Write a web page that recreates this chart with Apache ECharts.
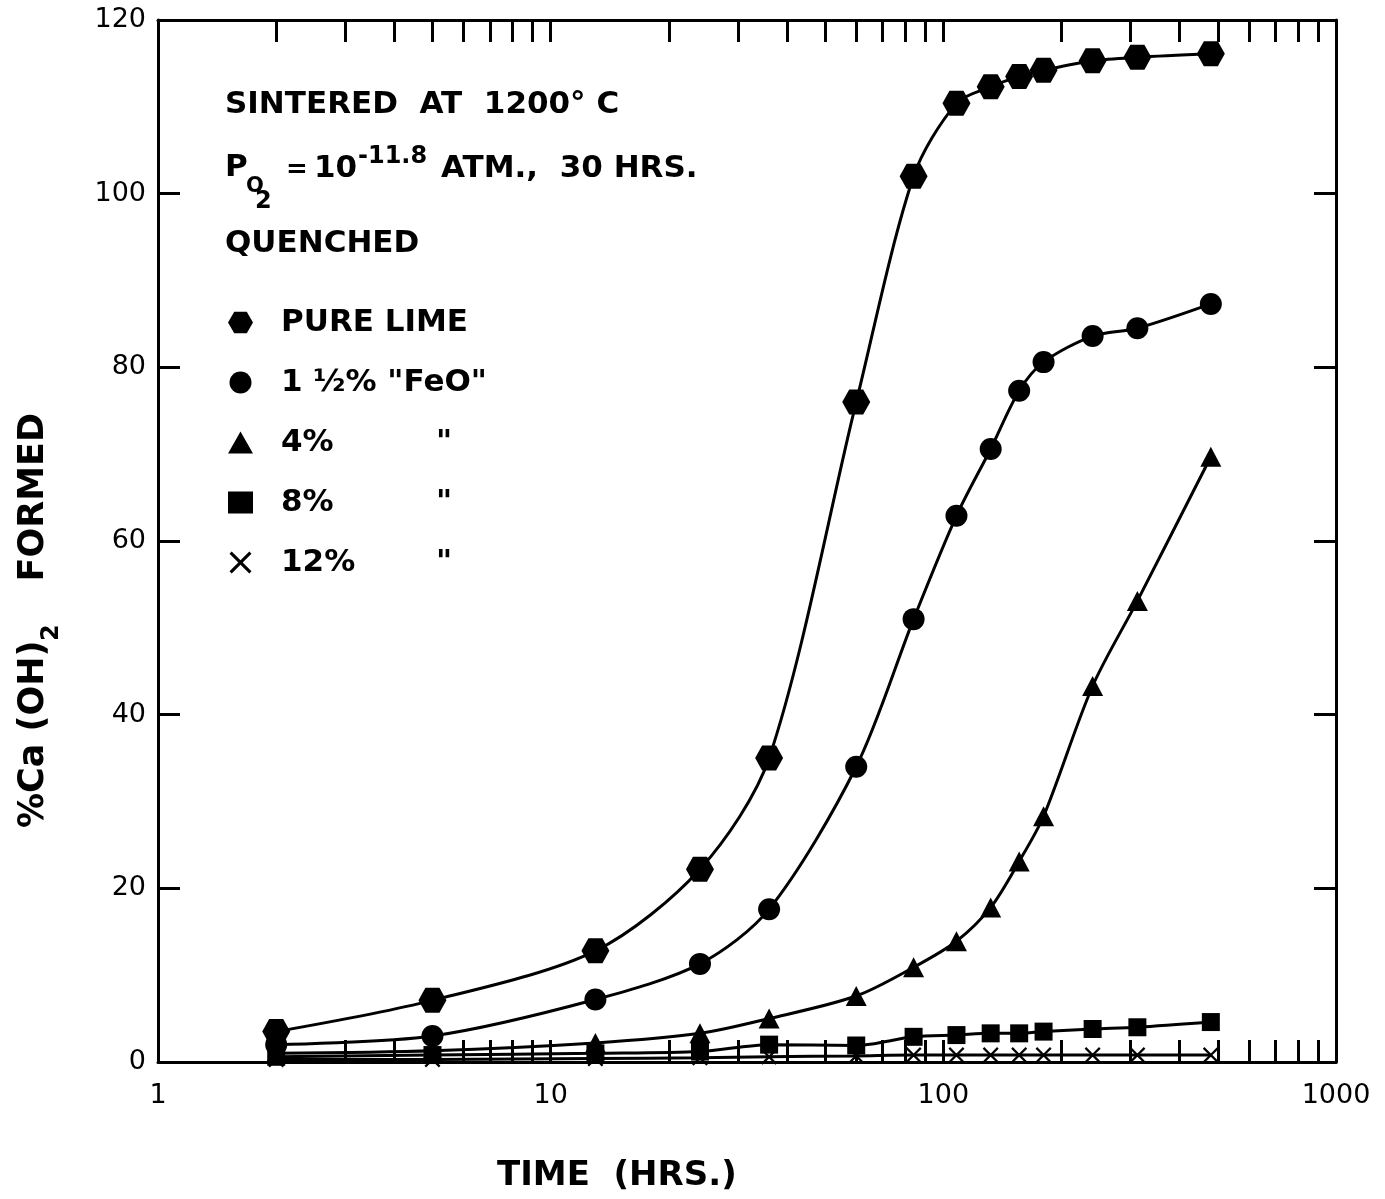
<!DOCTYPE html>
<html>
<head>
<meta charset="utf-8">
<script src="https://cdn.jsdelivr.net/npm/echarts@6/dist/echarts.min.js"></script>
<style>
  html, body { margin: 0; padding: 0; background: #fff; }
  #chart { width: 1385px; height: 1199px; }
</style>
</head>
<body>
<div id="chart"></div>
<script>
// sampling times (hrs)
var times = [2, 5, 13, 24, 36, 60, 84, 108, 132, 156, 180, 240, 312, 480];
// % Ca(OH)2 formed
var pureLime = [3.5, 7.1, 12.8, 22.2, 35.0, 76.0, 102.0, 110.4, 112.3, 113.5, 114.2, 115.3, 115.7, 116.1];
var feo15 = [2.0, 3.0, 7.2, 11.3, 17.6, 34.0, 51.0, 62.9, 70.6, 77.3, 80.6, 83.6, 84.5, 87.3];
var feo4 = [1.0, 1.3, 2.2, 3.3, 5.0, 7.6, 10.9, 13.9, 17.8, 23.1, 28.3, 43.3, 53.1, 69.7];
var feo8 = [0.6, 0.8, 1.0, 1.2, 2.0, 1.9, 2.9, 3.1, 3.3, 3.3, 3.5, 3.8, 4.0, 4.6];
var feo12 = [0.3, 0.3, 0.4, 0.5, 0.6, 0.7, 0.8, 0.8, 0.8, 0.8, 0.8, 0.8, 0.8, 0.8];

var xLabels = [1, 10, 100, 1000];
var xTicks = [2, 3, 4, 5, 6, 7, 8, 9, 10, 20, 30, 40, 50, 60, 70, 80, 90, 100,
  200, 300, 400, 500, 600, 700, 800, 900];

var FONT = 'DejaVu Sans';
var HEX = 'path://M0,5 L2.9,0 L8.7,0 L11.6,5 L8.7,10 L2.9,10 Z';
var CROSS = 'path://M1,0 L5,4 L9,0 L10,1 L6,5 L10,9 L9,10 L5,6 L1,10 L0,9 L4,5 L0,1 Z';

function pairs (ys) {
  return times.map(function (t, i) { return [t, ys[i]]; });
}

function makeSeries (name, ys, symbol, size) {
  return {
    name: name,
    type: 'line',
    data: pairs(ys),
    symbol: symbol,
    symbolSize: size,
    smooth: 0.3,
    lineStyle: { color: '#000', width: 3 },
    itemStyle: { color: '#000' },
    z: 3
  };
}

function xAxisOf (pos) {
  return {
    type: 'log',
    logBase: 10,
    min: 1,
    max: 1000,
    position: pos,
    axisLine: { onZero: false, lineStyle: { color: '#000', width: 3 } },
    axisTick: { inside: true, length: 22, customValues: xTicks, lineStyle: { color: '#000', width: 3 } },
    axisLabel: {
      show: pos === 'bottom',
      customValues: xLabels,
      formatter: function (v) { return String(v); },
      color: '#000', fontFamily: FONT, fontSize: 27, margin: 20
    },
    splitLine: { show: false }
  };
}

function yAxisOf (pos) {
  return {
    type: 'value',
    min: 0,
    max: 120,
    interval: 20,
    position: pos,
    axisLine: { onZero: false, lineStyle: { color: '#000', width: 3 } },
    axisTick: { inside: true, length: 22, lineStyle: { color: '#000', width: 3 } },
    axisLabel: { show: pos === 'left', color: '#000', fontFamily: FONT, fontSize: 27, margin: 12 },
    splitLine: { show: false }
  };
}

var txt = function (s, size, bold) {
  return { text: s, font: (bold ? 'bold ' : '') + size + 'px "DejaVu Sans"', fill: '#000', textVerticalAlign: 'middle' };
};

var chart = echarts.init(document.getElementById('chart'));

chart.setOption({
  animation: false,
  backgroundColor: '#fff',
  grid: { left: 158, top: 20, right: 49, bottom: 137 },
  xAxis: [xAxisOf('bottom'), xAxisOf('top')],
  yAxis: [yAxisOf('left'), yAxisOf('right')],
  legend: {
    orient: 'vertical',
    left: 223,
    top: 302,
    itemWidth: 25,
    itemHeight: 22,
    itemGap: 29,
    textStyle: {
      color: '#000', fontFamily: FONT, fontSize: 31, fontWeight: 'bold',
      rich: {
        s: { width: 23 },
        n: { fontFamily: FONT, fontSize: 31, fontWeight: 'bold', color: '#000', width: 155 },
        d: { fontFamily: FONT, fontSize: 31, fontWeight: 'bold', color: '#000' }
      }
    },
    formatter: function (name) {
      if (name === 'PURE LIME' || name.indexOf('FeO') >= 0) return '{s| }{d|' + name + '}';
      return '{s| }{n|' + name + '}{d|"}';
    },
    data: [
      { name: 'PURE LIME', icon: HEX },
      { name: '1 ½% "FeO"', icon: 'circle' },
      { name: '4%', icon: 'triangle' },
      { name: '8%', icon: 'rect' },
      { name: '12%', icon: CROSS }
    ]
  },
  graphic: [
    { type: 'text', x: 225, y: 105, style: txt('SINTERED  AT  1200° C', 31, true) },
    { type: 'text', x: 225, y: 168, style: txt('P', 31, true) },
    { type: 'text', x: 246, y: 187, style: txt('O', 21, true) },
    { type: 'text', x: 255, y: 202, style: txt('2', 24, true) },
    { type: 'text', x: 286, y: 170, style: txt('=', 26, true) },
    { type: 'text', x: 314, y: 169, style: txt('10', 31, true) },
    { type: 'text', x: 358, y: 157, style: txt('-11.8', 24, true) },
    { type: 'text', x: 441, y: 169, style: txt('ATM.,  30 HRS.', 31, true) },
    { type: 'text', x: 225, y: 244, style: txt('QUENCHED', 31, true) },
    { type: 'text', x: 497, y: 1176, style: txt('TIME  (HRS.)', 34, true) },
    { type: 'text', x: 34, y: 828, rotation: Math.PI / 2, style: txt('%Ca (OH)', 35, true) },
    { type: 'text', x: 52, y: 641, rotation: Math.PI / 2, style: txt('2', 24, true) },
    { type: 'text', x: 34, y: 413, rotation: Math.PI / 2, style: Object.assign(txt('FORMED', 35, true), { textAlign: 'right' }) }
  ],
  series: [
    makeSeries('PURE LIME', pureLime, HEX, [28, 25]),
    makeSeries('1 ½% "FeO"', feo15, 'circle', 22),
    makeSeries('4%', feo4, 'triangle', [21, 20]),
    makeSeries('8%', feo8, 'rect', 18),
    makeSeries('12%', feo12, CROSS, 16)
  ]
});
</script>
</body>
</html>
